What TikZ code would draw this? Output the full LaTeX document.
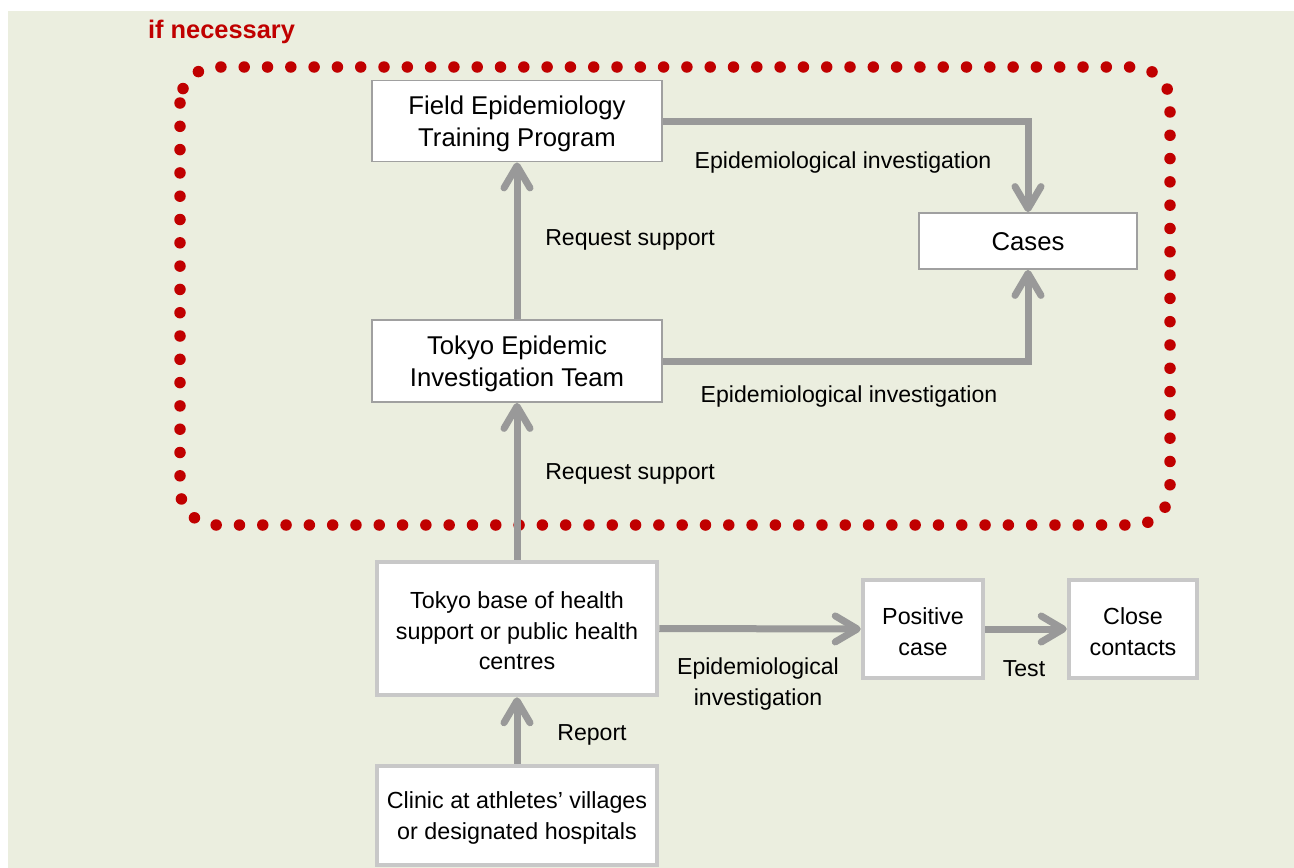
\documentclass[tikz,border=0pt]{standalone}
\usepackage{fontspec}
\setmainfont{Liberation Sans}
\usetikzlibrary{arrows.meta}
\definecolor{bg}{HTML}{EBEEDF}
\definecolor{dotred}{HTML}{C00000}
\definecolor{arrgray}{HTML}{999999}
\definecolor{thinborder}{HTML}{A0A0A0}
\definecolor{thickborder}{HTML}{C8C8C8}
\tikzset{
  thinbox/.style={draw=thinborder, line width=1.8pt, fill=white, inner sep=0pt},
  thickbox/.style={draw=thickborder, line width=4.5pt, fill=white, inner sep=0pt},
  bigtext/.style={font=\fontsize{25.7}{31.5}\selectfont, align=center, inner sep=0pt, yshift=-3pt},
  smalltext/.style={font=\fontsize{23.3}{30.5}\selectfont, align=center, inner sep=0pt, yshift=-2.5pt},
  flow/.style={draw=arrgray, line width=7pt, -{Straight Barb[length=22pt,width=26pt,round]}},
  lbl/.style={font=\fontsize{23.1}{30.5}\selectfont, align=center, inner sep=0pt},
}
\begin{document}
\begin{tikzpicture}[x=1pt,y=-1pt]
\useasboundingbox (0,0) rectangle (1294,868);
\fill[white] (0,0) rectangle (1294,868);
\fill[bg] (8,11) rectangle (1294,868);

\node[text=dotred, font=\bfseries\fontsize{25.4}{30}\selectfont, inner sep=0pt] (ifnec) at (221.5,32) {if necessary};
\draw[dotred, line width=11.5pt, line cap=round, dash pattern=on 0pt off 23.3pt, rounded corners=36pt]
  (180,67) rectangle (1170,525);

\node[thinbox, minimum width=290pt, minimum height=81pt,
  label={[bigtext]center:{Field Epidemiology\\Training Program}}] (fetp) at (517,121) {};
\node[thinbox, minimum width=218pt, minimum height=56pt,
  label={[bigtext, yshift=2pt]center:{Cases}}] (cases) at (1028,241) {};
\node[thinbox, minimum width=290pt, minimum height=82pt,
  label={[bigtext]center:{Tokyo Epidemic\\Investigation Team}}] (teit) at (517,361) {};
\node[thickbox, minimum width=280pt, minimum height=133pt,
  label={[smalltext]center:{Tokyo base of health\\support or public health\\centres}}] (base) at (517,628.5) {};
\node[thickbox, minimum width=120pt, minimum height=98pt,
  label={[smalltext]center:{Positive\\case}}] (pos) at (923,629) {};
\node[thickbox, minimum width=128pt, minimum height=98pt,
  label={[smalltext]center:{Close\\contacts}}] (close) at (1133,629) {};
\node[thickbox, minimum width=280pt, minimum height=99pt,
  label={[smalltext]center:{Clinic at athletes’ villages\\or designated hospitals}}] (clinic) at (517,815.5) {};

\draw[flow] (fetp.east) -| (cases.north);
\draw[flow] (teit.east) -| (cases.south);
\draw[flow] (teit.north) -- (fetp.south);
\draw[flow] (base.north) -- (teit.south);
\draw[flow] (clinic.north) -- (base.south);
\draw[flow] (base.east) -- (pos.west);
\draw[flow] (pos.east) -- (close.west);

\node[lbl] (l1) at (843,163) {Epidemiological investigation};
\node[lbl] (l2) at (630,240) {Request support};
\node[lbl] (l3) at (849,397) {Epidemiological investigation};
\node[lbl] (l4) at (630,474) {Request support};
\node[lbl] (l5) at (758,684) {Epidemiological\\investigation};
\node[lbl] (l6) at (1024,669) {Test};
\node[lbl] (l7) at (592,735) {Report};
\end{tikzpicture}
\end{document}
